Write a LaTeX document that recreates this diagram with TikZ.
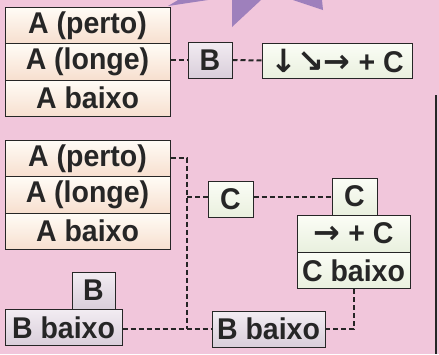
\documentclass[tikz,border=0pt]{standalone}
\usepackage{fontspec}
\setmainfont[FakeStretch=0.95]{Liberation Sans}
\newfontfamily\arrowfont{DejaVu Sans}
\definecolor{pinkbg}{HTML}{F1C6DB}
\definecolor{creamtop}{HTML}{FFFCF6}
\definecolor{creambot}{HTML}{F7DFCF}
\definecolor{lilactop}{HTML}{F2ECF2}
\definecolor{lilacbot}{HTML}{D9CEDA}
\definecolor{minttop}{HTML}{FBFDF6}
\definecolor{mintbot}{HTML}{E9F0DE}
\definecolor{ink}{HTML}{262626}
\definecolor{starpurple}{HTML}{9E80BC}
\tikzset{
  cell/.style={draw=ink, line width=1pt, text=ink, inner sep=0pt,
    font=\fontsize{30}{32}\selectfont\bfseries},
  acell/.style={cell, top color=creamtop, bottom color=creambot,
    minimum width=165pt, minimum height=36.5pt},
  bcell/.style={cell, top color=lilactop, bottom color=lilacbot, minimum height=36pt},
  ccell/.style={cell, top color=minttop, bottom color=mintbot, minimum height=36pt},
  link/.style={draw=ink, line width=2pt, dash pattern=on 5pt off 3pt}
}
\begin{document}
\begin{tikzpicture}[x=1pt,y=-1pt]
    \useasboundingbox (0,0) rectangle (439,354);
    \fill[pinkbg] (0,0) rectangle (439,354);

    % estrela no topo
    \fill[starpurple] (168,6) -- (178,0) -- (208,0) -- cycle;
    \fill[starpurple] (232,0) -- (261,0) -- (232,27) -- cycle;
    \fill[starpurple] (293,0) -- (322,0) -- (323,10) -- cycle;
    \draw[ink, line width=1.2pt] (436,95) -- (436,354);

    % primeiro combo
    \node[acell] (ap1) at (87.5,25.25) {A (perto)};
    \node[acell] (al1) at (87.5,61.75) {A (longe)};
    \node[acell] (ab1) at (87.5,98.25) {A baixo};
    \node[bcell, minimum width=44pt] (b1) at (210,60) {B};
    \node[ccell, minimum width=150pt, minimum height=35pt] (seq) at (337,60.5)
      {{\arrowfont\fontsize{32}{32}\selectfont ↓↘→} + C};
    \draw[link] (b1.west -| al1.east) -- (b1.west);
    \draw[link] (b1.east) -- (seq.west);

    % segundo combo
    \node[acell] (ap2) at (87.5,158.25) {A (perto)};
    \node[acell] (al2) at (87.5,194.75) {A (longe)};
    \node[acell] (ab2) at (87.5,231.25) {A baixo};
    \node[ccell, minimum width=45pt] (c1) at (230.5,199) {C};
    \node[ccell, minimum width=45pt, minimum height=37pt] (c2) at (354.5,196.5) {C};
    \node[ccell, minimum width=113pt, minimum height=37pt] (fc) at (353.5,233.5)
      {{\arrowfont\fontsize{32}{32}\selectfont →} + C};
    \node[ccell, minimum width=113pt] (cb) at (353.5,270.5) {C baixo};
    \node[bcell, minimum width=43pt, minimum height=37pt] (b2) at (93.5,290.5) {B};
    \node[bcell, minimum width=117pt] (bb1) at (63.5,327.5) {B baixo};
    \node[bcell, minimum width=113pt] (bb2) at (268.5,329) {B baixo};
    \coordinate (jn) at (187,329);

    \draw[link] (ap2.east) -| (jn);
    \draw[link] (jn |- c2.west) -- (c1.west |- c2.west);
    \draw[link] (c1.east |- c2.west) -- (c2.west);
    \draw[link] (bb1.east |- bb2.west) -- (bb2.west);
    \draw[link] (cb.south) |- (bb2.east);
  \end{tikzpicture}
\end{document}
